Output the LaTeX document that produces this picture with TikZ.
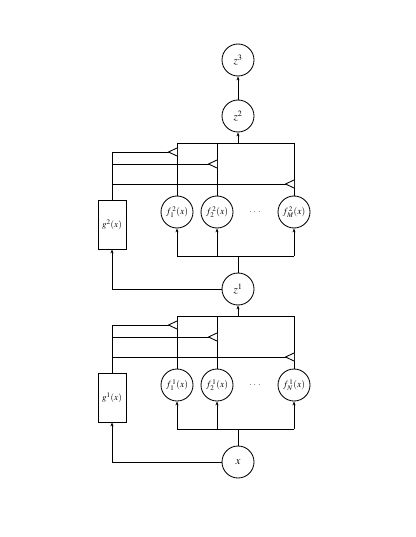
\documentclass[tikz,border=0pt]{standalone}
\usepackage{mathptmx}
\usetikzlibrary{arrows.meta}
\begin{document}
\begin{tikzpicture}[x=1pt,y=-1pt,
  every path/.style={line width=0.85pt},
  circ/.style={draw,circle,minimum size=32pt,inner sep=0pt,font=\fontsize{9.5}{11}\selectfont},
  zcirc/.style={circ,font=\fontsize{11}{12}\selectfont},
  gbox/.style={draw,rectangle,minimum width=28pt,minimum height=49pt,inner sep=0pt,font=\fontsize{9}{10}\selectfont},
  arr/.style={-{Stealth[length=4pt,width=3pt]}},
  gate/.style={fill=white,line join=miter}]
\useasboundingbox (0,0) rectangle (415,537);
% output / input nodes
\node[zcirc] (x)  at (238,462) {$x$};
\node[zcirc] (z1) at (238,289) {$z^1$};
\node[zcirc] (z2) at (238,116) {$z^2$};
\node[zcirc] (z3) at (238,60)  {$z^3$};
\draw[arr] (z2) -- (z3);
% ---------------- block 1 ----------------
\node[circ] (f11) at (177,385) {$f_1^{\,1}(x)$};
\node[circ] (f12) at (217,385) {$f_2^{\,1}(x)$};
\node[font=\fontsize{9}{10}\selectfont] (d1) at (255,385) {$.\;.\;.$};
\node[circ] (f1N) at (294,385) {$f_N^{\,1}(x)$};
\node[gbox] (g1) at (112,397.5) {$g^1(x)$};
\coordinate (bb1) at (238,429);
\coordinate (bt1) at (238,316);
\draw (x) -- (bb1);
\draw (f11|-bb1) -- (f1N|-bb1);
\foreach \f in {f11,f12,f1N} {\draw[arr] (\f|-bb1) -- (\f); \draw (\f) -- (\f|-bt1);}
\draw (f11|-bt1) -- (f1N|-bt1);
\draw[arr] (bt1) -- (z1);
\draw[arr] (x.west) -| (g1.south);
\coordinate (la1) at (112,325);
\coordinate (lb1) at (112,337);
\coordinate (lc1) at (112,357);
\draw (g1.north) -- (la1);
\draw (la1) -- (f11|-la1) coordinate (ta1);
\draw (lb1) -- (f12|-lb1) coordinate (tb1);
\draw (lc1) -- (f1N|-lc1) coordinate (tc1);
\foreach \t in {ta1,tb1,tc1} {\draw[gate] ([yshift=-4pt]\t) -- ([xshift=-8.5pt]\t) -- ([yshift=4pt]\t);}
% ---------------- block 2 ----------------
\node[circ] (f21) at (177,212) {$f_1^{\,2}(x)$};
\node[circ] (f22) at (217,212) {$f_2^{\,2}(x)$};
\node[font=\fontsize{9}{10}\selectfont] (d2) at (255,212) {$.\;.\;.$};
\node[circ] (f2M) at (294,212) {$f_M^{\,2}(x)$};
\node[gbox] (g2) at (112,224.5) {$g^2(x)$};
\coordinate (bb2) at (238,256);
\coordinate (bt2) at (238,143);
\draw (z1) -- (bb2);
\draw (f21|-bb2) -- (f2M|-bb2);
\foreach \f in {f21,f22,f2M} {\draw[arr] (\f|-bb2) -- (\f); \draw (\f) -- (\f|-bt2);}
\draw (f21|-bt2) -- (f2M|-bt2);
\draw[arr] (bt2) -- (z2);
\draw[arr] (z1.west) -| (g2.south);
\coordinate (la2) at (112,152);
\coordinate (lb2) at (112,164);
\coordinate (lc2) at (112,184);
\draw (g2.north) -- (la2);
\draw (la2) -- (f21|-la2) coordinate (ta2);
\draw (lb2) -- (f22|-lb2) coordinate (tb2);
\draw (lc2) -- (f2M|-lc2) coordinate (tc2);
\foreach \t in {ta2,tb2,tc2} {\draw[gate] ([yshift=-4pt]\t) -- ([xshift=-8.5pt]\t) -- ([yshift=4pt]\t);}
\end{tikzpicture}
\end{document}
